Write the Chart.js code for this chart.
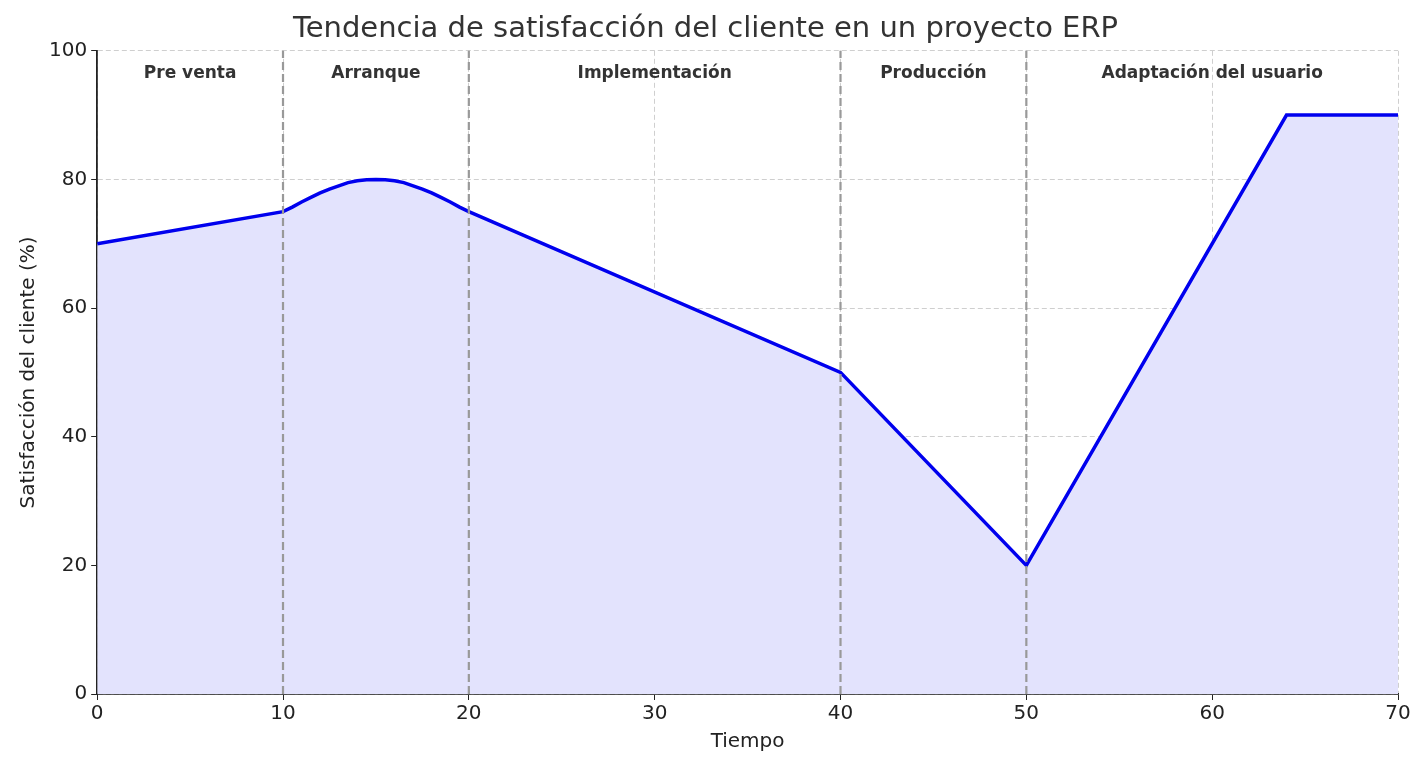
<!DOCTYPE html>
<html><head><meta charset="utf-8">
<script src="https://cdn.jsdelivr.net/npm/chart.js@4"></script>
<style>html,body{margin:0;background:#fff}#w{width:1426px;height:772px}</style>
</head><body><div id="w"><canvas id="c"></canvas></div>
<script>
const timeX = [0,10,10.5,11,11.5,12,12.5,13,13.5,14,14.5,15,15.5,16,16.5,17,17.5,18,18.5,19,19.5,20,40,50,64,70];
const satisfaction = [70,75,75.7,76.5,77.2,77.9,78.5,79.0,79.5,79.8,79.95,80,79.95,79.8,79.5,79.0,78.5,77.9,77.2,76.5,75.7,75,50,20,90,90];
const phaseBounds = [10,20,40,50];
const phaseNames = ["Pre venta","Arranque","Implementación","Producción","Adaptación del usuario"];
const phaseCenters = [5,15,30,45,60];
const xTicks = [0,10,20,30,40,50,60,70];
const yTicks = [0,20,40,60,80,100];

const F = "'DejaVu Sans', sans-serif";
const datasets = [{
  data: timeX.map((x,i)=>({x, y: satisfaction[i]})),
  borderColor:'#0000ee', borderWidth:3.5, pointRadius:0, tension:0,
  fill:'origin', backgroundColor:'rgba(227,227,253,1)'
}];
const labelPlugin = {id:'lbl', afterDatasetsDraw(ch){
  const {ctx, scales:{x,y}} = ch;
  ctx.save();
  ctx.strokeStyle='#999'; ctx.lineWidth=2.2; ctx.setLineDash([8,4]);
  phaseBounds.forEach(b=>{const px=x.getPixelForValue(b);
    ctx.beginPath(); ctx.moveTo(px,y.getPixelForValue(0)); ctx.lineTo(px,y.getPixelForValue(100)); ctx.stroke();});
  ctx.setLineDash([]);
  ctx.font = "bold 17px "+F; ctx.fillStyle='#333';
  ctx.textAlign='center'; ctx.textBaseline='middle';
  phaseNames.forEach((n,i)=>ctx.fillText(n, x.getPixelForValue(phaseCenters[i]), y.getPixelForValue(96.5)));
  ctx.restore();
}};
new Chart(document.getElementById('c'), {
  type:'line', data:{datasets}, plugins:[labelPlugin],
  options:{responsive:true, maintainAspectRatio:false, animation:false,
    layout:{padding:{left:13,right:28,top:0,bottom:14}},
    plugins:{legend:{display:false}, tooltip:{enabled:false},
      title:{display:true, text:'Tendencia de satisfacción del cliente en un proyecto ERP',
        font:{family:F,size:29,weight:'normal'}, color:'#333', padding:{top:12,bottom:4}}},
    scales:{
      x:{type:'linear', min:0, max:70,
        afterBuildTicks:s=>{s.ticks=xTicks.map(v=>({value:v}))},
        ticks:{font:{family:F,size:20}, color:'#222', padding:2},
        grid:{color:'#cfcfcf', tickLength:6, tickColor:'#222'},
        border:{color:'#222', width:1.8, dash:[5,3]},
        title:{display:true, text:'Tiempo', font:{family:F,size:20}, color:'#222', padding:{top:2}}},
      y:{min:0, max:100,
        afterBuildTicks:s=>{s.ticks=yTicks.map(v=>({value:v}))},
        ticks:{font:{family:F,size:20}, color:'#222', padding:4},
        grid:{color:'#cfcfcf', tickLength:6, tickColor:'#222'},
        border:{color:'#222', width:1.8, dash:[5,3]},
        title:{display:true, text:'Satisfacción del cliente (%)', font:{family:F,size:20}, color:'#222'}}
    }}
});
</script></body></html>
